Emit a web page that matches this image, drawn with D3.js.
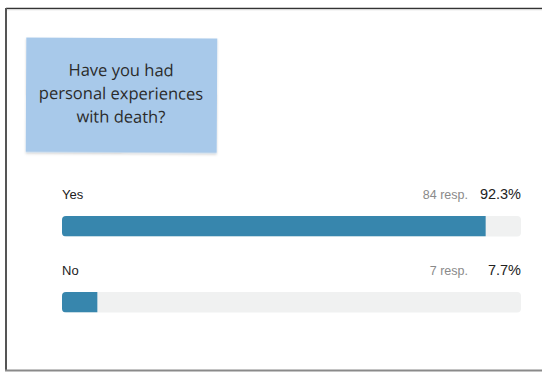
<!DOCTYPE html>
<html>
<head>
<meta charset="utf-8">
<script src="https://cdn.jsdelivr.net/npm/d3@7"></script>
<style>
  html, body { margin: 0; padding: 0; background: #fff; }
  svg { display: block; }
</style>
</head>
<body>
<script>
// Survey question and answers
const questionLines = ["Have you had", "personal experiences", "with death?"];
const answers = ["Yes", "No"];
const responses = [84, 7];
const percents = [92.3, 7.7];

const W = 542, H = 372;
const svg = d3.select("body").append("svg").attr("width", W).attr("height", H);

// Card frame
svg.append("line").attr("x1", 6).attr("x2", W).attr("y1", 8.5).attr("y2", 8.5)
  .attr("stroke", "#333").attr("stroke-width", 1.5);
svg.append("line").attr("x1", 7).attr("x2", W).attr("y1", 9.8).attr("y2", 9.8)
  .attr("stroke", "#ddd").attr("stroke-width", 1);
svg.append("line").attr("x1", 6).attr("x2", 6).attr("y1", 8).attr("y2", 371)
  .attr("stroke", "#555").attr("stroke-width", 2);
svg.append("line").attr("x1", 5).attr("x2", W).attr("y1", 370.5).attr("y2", 370.5)
  .attr("stroke", "#8a8a8a").attr("stroke-width", 2);

// Sticky-note question box
const defs = svg.append("defs");
const f = defs.append("filter").attr("id", "shadow").attr("x", "-10%").attr("y", "-10%")
  .attr("width", "120%").attr("height", "130%");
f.append("feDropShadow").attr("dx", 0).attr("dy", 1.5).attr("stdDeviation", 1.2)
  .attr("flood-color", "#000").attr("flood-opacity", 0.18);

const note = svg.append("g").attr("transform", "rotate(0.3, 121, 95)");
note.append("rect").attr("x", 26).attr("y", 38).attr("width", 191).attr("height", 114.5)
  .attr("fill", "#a8c9ea").attr("filter", "url(#shadow)");
note.selectAll("text.q").data(questionLines).join("text")
  .attr("class", "q")
  .attr("x", 121)
  .attr("y", (d, i) => 76 + i * 23.3)
  .attr("text-anchor", "middle")
  .attr("font-family", "'Open Sans', sans-serif")
  .attr("font-size", 16.5)
  .attr("fill", "#2b2b2b")
  .text(d => d);

// Bars
const x = d3.scaleLinear().domain([0, 100]).range([62, 521]);
const rowTop = d3.scalePoint().domain(answers).range([216, 292]);
const barH = 20.5;

const rows = svg.selectAll("g.row").data(answers).join("g").attr("class", "row");

rows.append("text")
  .attr("x", 62).attr("y", d => rowTop(d) - 17)
  .attr("font-family", "'Liberation Sans', Arial, sans-serif")
  .attr("font-size", 13).attr("fill", "#222")
  .text(d => d);

rows.append("text")
  .attr("x", x(100)).attr("y", d => rowTop(d) - 17)
  .attr("text-anchor", "end")
  .attr("font-family", "'Liberation Sans', Arial, sans-serif")
  .attr("font-size", 14.5).attr("fill", "#222")
  .text((d, i) => percents[i] + "%");

rows.append("text")
  .attr("x", 468).attr("y", d => rowTop(d) - 17)
  .attr("text-anchor", "end")
  .attr("font-family", "'Liberation Sans', Arial, sans-serif")
  .attr("font-size", 12.5).attr("fill", "#8a8a8a")
  .text((d, i) => responses[i] + " resp.");

rows.append("rect")
  .attr("x", x(0)).attr("y", d => rowTop(d))
  .attr("width", x(100) - x(0)).attr("height", barH)
  .attr("rx", 4).attr("fill", "#f0f1f1");

const clip = defs.selectAll("clipPath").data(answers).join("clipPath")
  .attr("id", (d, i) => "clip" + i);
clip.append("rect")
  .attr("x", x(0)).attr("y", d => rowTop(d))
  .attr("width", x(100) - x(0)).attr("height", barH).attr("rx", 4);

rows.append("rect")
  .attr("clip-path", (d, i) => `url(#clip${i})`)
  .attr("x", x(0)).attr("y", d => rowTop(d))
  .attr("width", (d, i) => x(percents[i]) - x(0)).attr("height", barH)
  .attr("fill", "#3786ad");
</script>
</body>
</html>
